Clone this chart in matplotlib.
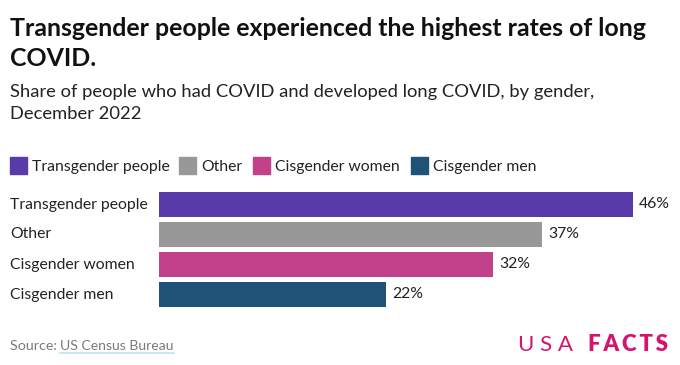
import matplotlib.pyplot as plt

plt.rcParams['font.family'] = ['Lato', 'DejaVu Sans']

# data
categories = ['Transgender people', 'Other', 'Cisgender women', 'Cisgender men']
values = [46.0, 37.2, 32.4, 22.0]
colors = ['#583BA8', '#989898', '#C1418A', '#1F5276']

W, H = 680, 365
fig = plt.figure(figsize=(W / 100, H / 100), dpi=100)


def px(x, y):
    return x / W, 1 - y / H


# title / subtitle
fig.text(*px(10, 36), 'Transgender people experienced the highest rates of long',
         fontsize=17.9, fontweight='bold', color='#111111', va='baseline')
fig.text(*px(10, 66), 'COVID.', fontsize=17.9, fontweight='bold', color='#111111', va='baseline')
fig.text(*px(10, 97), 'Share of people who had COVID and developed long COVID, by gender,',
         fontsize=13.2, color='#222222', va='baseline')
fig.text(*px(10, 119), 'December 2022', fontsize=13.2, color='#222222', va='baseline')

# legend
leg_x = [10, 179, 253, 411]
for lx, cat, c in zip(leg_x, categories, colors):
    fig.patches.append(plt.Rectangle(px(lx, 174), 17 / W, 17 / H, color=c,
                                     transform=fig.transFigure, figure=fig))
    fig.text(*px(lx + 22, 171), cat, fontsize=11.3, color='#222222', va='baseline')

# bars
x0, scale = 159, (633 - 159) / 46
ax = fig.add_axes([x0 / W, 1 - 309.5 / H, 50 * scale / W, 120 / H])
ypos = range(len(categories))
ax.barh(ypos, values, height=25 / 30, color=colors)
ax.set_xlim(0, 50)
ax.set_ylim(3.5, -0.5)
ax.axis('off')
for y, v, cat in zip(ypos, values, categories):
    ax.text(v + 0.6, y, f'{v:.0f}%', va='center', ha='left', fontsize=11.3, color='#222222')
    fig.text(10 / W, ax.transData.transform((0, y))[1] / H, cat, va='center', ha='left',
             fontsize=11.3, color='#222222')

# footer
fig.text(*px(10, 350), 'Source: ', fontsize=10.3, color='#7a7a7a', va='baseline')
fig.text(*px(60, 350), 'US Census Bureau', fontsize=10.1, color='#7a7a7a', va='baseline')
fig.lines.append(plt.Line2D([60 / W, 174 / W], [1 - 352.5 / H] * 2, color='#bfe1f2', lw=1.2,
                            transform=fig.transFigure, figure=fig))
fig.text(*px(573, 351), 'U S A', fontsize=16, fontweight='normal', color='#D4146F',
         va='baseline', ha='right')
fig.text(*px(668, 351), 'F\u2009A\u2009C\u2009T\u2009S', fontsize=16, fontweight='heavy',
         color='#D4146F', va='baseline', ha='right')

fig.savefig('out.png', dpi=100)
